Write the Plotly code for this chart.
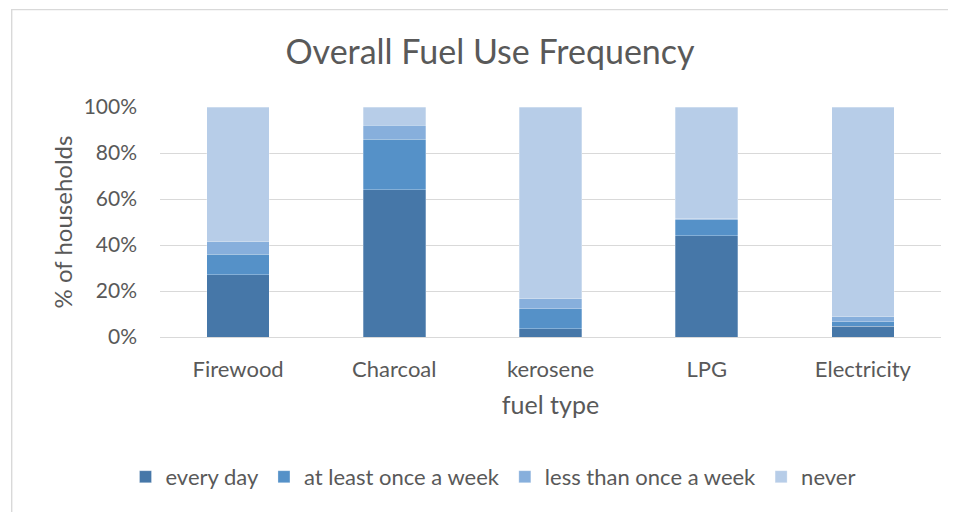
import plotly.graph_objects as go

categories = ["Firewood", "Charcoal", "kerosene", "LPG", "Electricity"]
every_day = [27.0, 64.0, 3.5, 44.0, 4.7]
at_least_weekly = [9.0, 22.0, 8.7, 7.0, 1.9]
less_than_weekly = [5.5, 6.0, 4.5, 0.5, 2.3]
never = [58.5, 8.0, 83.3, 48.5, 91.1]

series_names = ["every day", "at least once a week", "less than once a week", "never"]
series_vals = [every_day, at_least_weekly, less_than_weekly, never]
colors = ["#4677a8", "#5591c8", "#87afdc", "#b7cde8"]

FONT = "Lato"
W, H = 948, 504
L, R, T, B = 152, 15, 98.5, 174.5
PW, PH = W - L - R, H - T - B


def px_x(p):
    return (p - L) / PW


def px_y(p):
    return 1 + (T - p) / PH


fig = go.Figure()
for name, vals, col in zip(series_names, series_vals, colors):
    fig.add_trace(go.Bar(
        x=categories, y=vals, name=name,
        marker=dict(color=col, line=dict(color="rgba(255,255,255,0.35)", width=0.8)),
        hoverinfo="x+y+name",
    ))

fig.update_layout(
    barmode="stack",
    bargap=0.6,
    width=W, height=H,
    margin=dict(l=L, r=R, t=T, b=B, autoexpand=False),
    paper_bgcolor="white", plot_bgcolor="white",
    font=dict(family=FONT, color="#595959", size=22),
    title=dict(text="Overall Fuel Use Frequency", xref="container", x=482 / W, xanchor="center",
               y=1 - 44 / H, yanchor="middle",
               font=dict(size=34, color="#595959", family=FONT)),
    xaxis=dict(
        title=dict(text="fuel type", font=dict(size=25), standoff=15),
        showgrid=False, zeroline=False, showline=False, ticks="",
        tickfont=dict(size=22), ticklabelstandoff=17,
    ),
    yaxis=dict(
        title=dict(text="% of households", font=dict(size=24), standoff=4),
        range=[0, 100], tickvals=[0, 20, 40, 60, 80, 100],
        ticktext=["0%", "20%", "40%", "60%", "80%", "100%"],
        showgrid=True, gridcolor="#d9d9d9", gridwidth=1.3,
        zeroline=True, zerolinecolor="#d9d9d9", zerolinewidth=1.3,
        showline=False, ticks="", tickfont=dict(size=21),
        ticklabelstandoff=22,
    ),
    legend=dict(orientation="h", x=px_x(485), xanchor="center", y=px_y(470), yanchor="middle",
                font=dict(size=22, color="#595959"), traceorder="normal",
                itemwidth=30, tracegroupgap=0),
    shapes=[
        dict(type="line", xref="paper", yref="paper", x0=px_x(3), x1=px_x(960), y0=px_y(0.7), y1=px_y(0.7),
             line=dict(color="#d9d9d9", width=1.4)),
        dict(type="line", xref="paper", yref="paper", x0=px_x(3.7), x1=px_x(3.7), y0=px_y(0), y1=px_y(520),
             line=dict(color="#d9d9d9", width=1.4)),
    ],
)

fig.write_html("out.html")
